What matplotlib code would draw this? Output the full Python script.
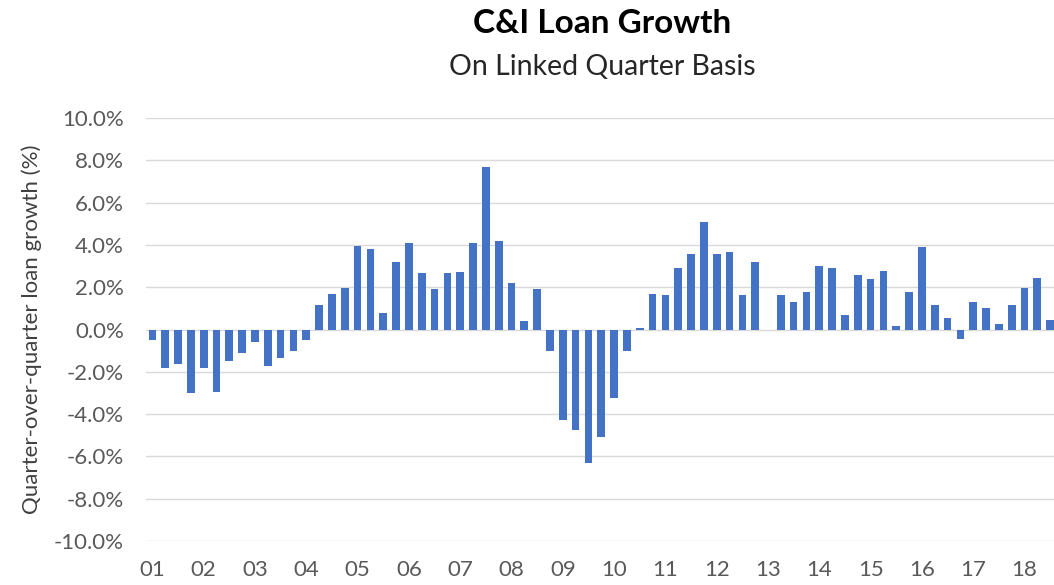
import matplotlib.pyplot as plt
import numpy as np
from matplotlib.ticker import FuncFormatter


# Quarterly C&I loan growth, linked quarter (%), 2001Q1 - 2018Q3
growth = [
    -0.5, -1.8, -1.65, -3.0,      # 2001
    -1.8, -2.94, -1.5, -1.1,      # 2002
    -0.58, -1.72, -1.34, -1.03,   # 2003
    -0.5, 1.15, 1.69, 1.97,       # 2004
    3.97, 3.81, 0.76, 3.19,       # 2005
    4.1, 2.67, 1.91, 2.67,        # 2006
    2.73, 4.1, 7.68, 4.17,        # 2007
    2.21, 0.39, 1.91, -1.03,      # 2008
    -4.3, -4.74, -6.32, -5.06,    # 2009
    -3.24, -1.03, 0.08, 1.69,     # 2010
    1.61, 2.89, 3.59, 5.1,        # 2011
    3.59, 3.65, 1.61, 3.19,       # 2012
    0.0, 1.61, 1.31, 1.77,        # 2013
    2.99, 2.89, 0.70, 2.59,       # 2014
    2.37, 2.75, 0.17, 1.77,       # 2015
    3.89, 1.15, 0.55, -0.43,      # 2016
    1.31, 1.0, 0.24, 1.15,        # 2017
    1.97, 2.45, 0.47,             # 2018
]
year_labels = [f"{y:02d}" for y in range(1, 19)]
y_ticks = [-10, -8, -6, -4, -2, 0, 2, 4, 6, 8, 10]

BAR_COLOR = "#4472C4"
GRID_COLOR = "#D9D9D9"
TEXT_GRAY = "#595959"

plt.rcParams["font.family"] = ["Lato", "DejaVu Sans"]


def main() -> None:
    fig = plt.figure(figsize=(10.54, 5.85), dpi=100, facecolor="white")
    ax = fig.add_axes([0.1385, 0.0752, 0.8615, 0.7231])

    x = np.arange(len(growth))
    ax.bar(x, growth, width=0.6, color=BAR_COLOR, zorder=3)

    ax.set_xlim(-0.5, 70.3)
    ax.set_ylim(-10, 10)
    ax.set_yticks(y_ticks)
    ax.yaxis.set_major_formatter(FuncFormatter(lambda v, _: f"{v:.1f}%"))
    ax.set_xticks(np.arange(0, len(growth), 4))
    ax.set_xticklabels(year_labels)

    ax.grid(axis="y", color=GRID_COLOR, linewidth=1.0, zorder=0)
    for spine in ax.spines.values():
        spine.set_visible(False)
    ax.tick_params(axis="both", length=0, labelsize=16, colors=TEXT_GRAY)
    ax.tick_params(axis="y", pad=16)
    ax.tick_params(axis="x", pad=14)

    ax.set_ylabel("Quarter-over-quarter loan growth (%)", fontsize=16,
                  color="#404040")
    ax.yaxis.set_label_coords(-0.114, 0.5)

    fig.text(0.571, 0.9436, "C&I Loan Growth", ha="center", va="baseline",
             fontsize=24, fontweight="bold", color="black")
    fig.text(0.571, 0.872, "On Linked Quarter Basis", ha="center",
             va="baseline", fontsize=20.5, color="#262626")

    fig.savefig("out.png", dpi=100, facecolor="white")
    plt.close(fig)


if __name__ == "__main__":
    main()
